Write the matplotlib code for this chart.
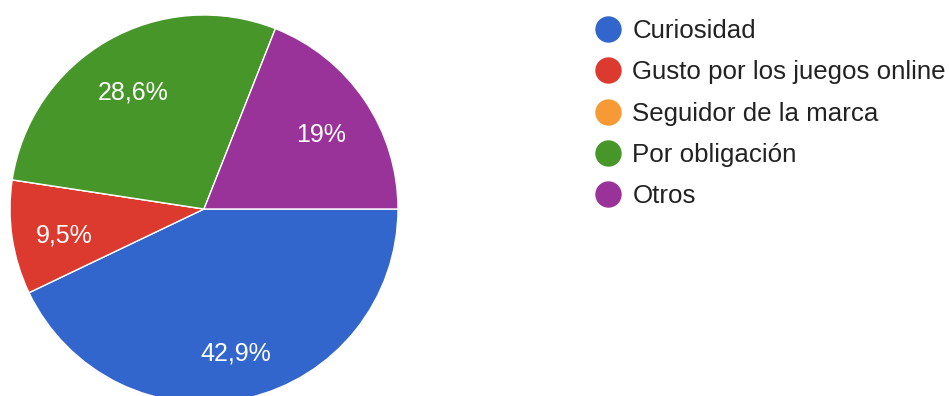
import matplotlib
matplotlib.use("Agg")
import matplotlib.pyplot as plt
from matplotlib.lines import Line2D

plt.rcParams['font.family'] = ['Liberation Sans', 'DejaVu Sans']

categorias = ["Curiosidad", "Gusto por los juegos online", "Seguidor de la marca",
              "Por obligación", "Otros"]
porcentajes = [42.9, 9.5, 0.0, 28.6, 19.0]
colores = ["#3366cc", "#dc3a2f", "#f79a35", "#47962a", "#993399"]


def etiqueta(p):
    if p < 0.5:
        return ""
    s = "%.1f" % p
    if s.endswith(".0"):
        s = s[:-2]
    return s.replace(".", ",") + "%"


W, H = 949, 396
fig = plt.figure(figsize=(W / 100, H / 100), dpi=100)

# pie: center (204, 209) px, radius 194 px
cx, cy, r = 204, 209, 194
ax = fig.add_axes([(cx - r) / W, (H - cy - r) / H, 2 * r / W, 2 * r / H])
wedges, texts, autotexts = ax.pie(
    porcentajes, colors=colores, startangle=0, counterclock=False,
    autopct=etiqueta, pctdistance=0.73, radius=1,
    wedgeprops=dict(edgecolor="white", linewidth=1),
    textprops=dict(color="white", fontsize=18))
# labels sit a few pixels lower than matplotlib's centre
for t in autotexts:
    x, y = t.get_position()
    t.set_position((x, y - 6 / r))
ax.set_xlim(-1, 1)
ax.set_ylim(-1, 1)
ax.set_aspect("equal")

handles = [Line2D([], [], marker="o", linestyle="none", markersize=18,
                  markerfacecolor=c, markeredgecolor=c) for c in colores]
leg = fig.legend(handles, categorias, loc="upper left",
                 bbox_to_anchor=(595 / W, 1 - 19 / H), frameon=False,
                 fontsize=18.6, labelspacing=0.67, handlelength=1.0,
                 handletextpad=0.45, borderpad=0, borderaxespad=0)
for t in leg.get_texts():
    t.set_color("#222222")

fig.savefig("out.png", dpi=100)
